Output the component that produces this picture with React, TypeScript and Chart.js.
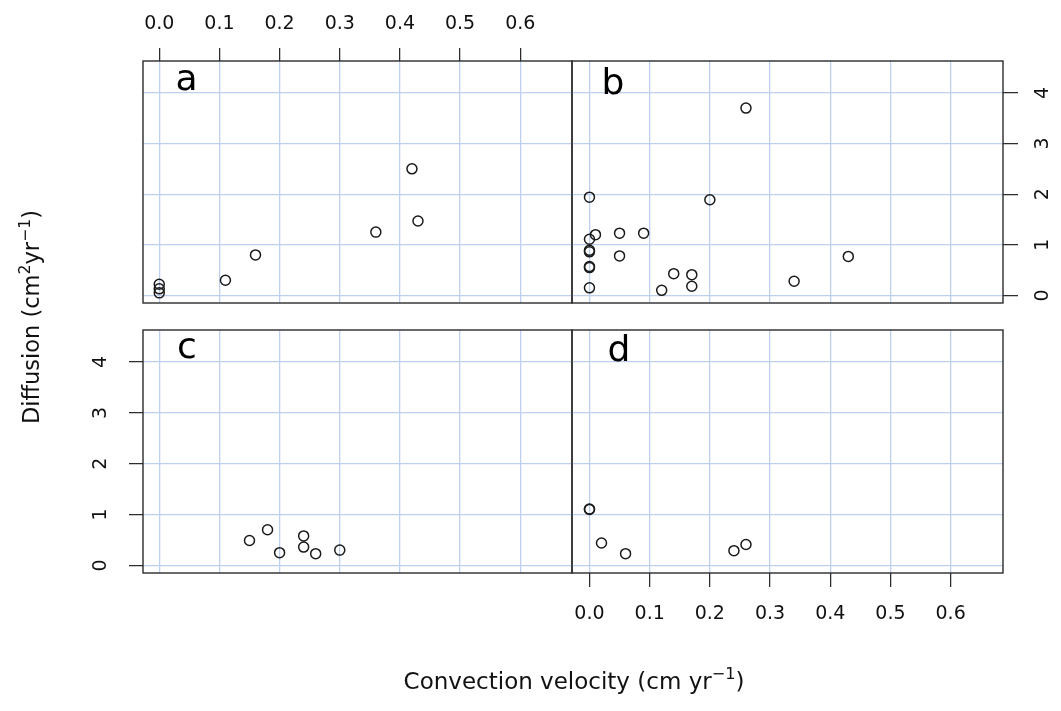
import React, { useEffect, useRef } from "react";
import { Chart, registerables } from "chart.js";

Chart.register(...registerables);

// ---- data ----
const X_TICKS = [0, 0.1, 0.2, 0.3, 0.4, 0.5, 0.6];
const Y_TICKS = [0, 1, 2, 3, 4];

const A_X = [0, 0, 0, 0.11, 0.16, 0.36, 0.42, 0.43];
const A_Y = [0.22, 0.13, 0.05, 0.3, 0.8, 1.25, 2.5, 1.47];

const B_X = [0.26, 0, 0.2, 0.01, 0, 0.05, 0.09, 0, 0, 0.05, 0, 0, 0, 0.14, 0.17, 0.17, 0.12, 0.34, 0.43];
const B_Y = [3.7, 1.94, 1.89, 1.2, 1.11, 1.23, 1.23, 0.89, 0.86, 0.78, 0.57, 0.55, 0.15, 0.43, 0.41, 0.18, 0.1, 0.28, 0.77];

const C_X = [0.15, 0.18, 0.2, 0.24, 0.24, 0.26, 0.3];
const C_Y = [0.49, 0.7, 0.25, 0.58, 0.36, 0.23, 0.3];

const D_X = [0, 0, 0.02, 0.06, 0.24, 0.26];
const D_Y = [1.11, 1.1, 0.44, 0.23, 0.29, 0.41];

const PANEL_LETTERS = ["a", "b", "c", "d"];
const X_TITLE = [
  { t: "Convection velocity (cm yr" },
  { t: "\u22121", sup: true },
  { t: ")" },
];
const Y_TITLE = [
  { t: "Diffusion (cm" },
  { t: "2", sup: true },
  { t: "yr" },
  { t: "\u22121", sup: true },
  { t: ")" },
];

// ---- styling / layout ----
const W = 1061;
const H = 711;
const FONT = '"DejaVu Sans", "Liberation Sans", sans-serif';
const GRID = "rgb(190, 208, 242)";
const Y_MIN = -0.15;
const Y_MAX = 4.63;

type Part = { t: string; sup?: boolean };

function drawRich(ctx: CanvasRenderingContext2D, parts: Part[], size: number) {
  let total = 0;
  const m = parts.map((p) => {
    const fs = p.sup ? size * 0.7 : size;
    ctx.font = `${fs}px ${FONT}`;
    const w = ctx.measureText(p.t).width;
    total += w;
    return { ...p, fs, w };
  });
  let x = -total / 2;
  ctx.textAlign = "left";
  ctx.textBaseline = "alphabetic";
  for (const p of m) {
    ctx.font = `${p.fs}px ${FONT}`;
    ctx.fillText(p.t, x, p.sup ? -size * 0.42 : 0);
    x += p.w;
  }
}

type Spec = {
  xs: number[];
  ys: number[];
  area: { left: number; top: number; right: number; bottom: number };
  xMin: number;
  xMax: number;
  xAxis: "top" | "bottom" | "none";
  yAxis: "left" | "right" | "none";
  letter: string;
  letterX: number;
  letterY: number;
  titles?: boolean;
};

const SPECS: Spec[] = [
  {
    xs: A_X, ys: A_Y,
    area: { left: 143, top: 61, right: 572, bottom: 303 },
    xMin: -0.027, xMax: 0.686, xAxis: "top", yAxis: "none",
    letter: PANEL_LETTERS[0], letterX: 186.5, letterY: 90,
  },
  {
    xs: B_X, ys: B_Y,
    area: { left: 572, top: 61, right: 1003, bottom: 303 },
    xMin: -0.029, xMax: 0.687, xAxis: "none", yAxis: "right",
    letter: PANEL_LETTERS[1], letterX: 613, letterY: 94,
  },
  {
    xs: C_X, ys: C_Y,
    area: { left: 143, top: 330, right: 572, bottom: 573 },
    xMin: -0.027, xMax: 0.686, xAxis: "none", yAxis: "left",
    letter: PANEL_LETTERS[2], letterX: 187, letterY: 358,
  },
  {
    xs: D_X, ys: D_Y,
    area: { left: 572, top: 330, right: 1003, bottom: 573 },
    xMin: -0.029, xMax: 0.687, xAxis: "bottom", yAxis: "none",
    letter: PANEL_LETTERS[3], letterX: 619, letterY: 361,
    titles: true,
  },
];

function makeConfig(s: Spec): any {
  const a = s.area;
  let padTop = a.top, padBottom = H - a.bottom, padLeft = a.left, padRight = W - a.right;
  let xSize = 0, ySize = 0;
  if (s.xAxis === "top") { xSize = a.top; padTop = 0; }
  if (s.xAxis === "bottom") { xSize = H - a.bottom; padBottom = 0; }
  if (s.yAxis === "left") { ySize = a.left; padLeft = 0; }
  if (s.yAxis === "right") { ySize = W - a.right; padRight = 0; }

  const fix = (size: number) => (scale: any) => {
    if (scale.isHorizontal()) scale.height = size;
    else scale.width = size;
    scale.paddingLeft = 0;
    scale.paddingRight = 0;
    scale.paddingTop = 0;
    scale.paddingBottom = 0;
  };

  const xShow = s.xAxis !== "none";
  const yShow = s.yAxis !== "none";

  const decor = {
    id: "decor",
    afterDraw(chart: any) {
      const { ctx, chartArea: ca } = chart;
      ctx.save();
      ctx.strokeStyle = "#2b2b2b";
      ctx.lineWidth = 1.4;
      ctx.strokeRect(ca.left, ca.top, ca.right - ca.left, ca.bottom - ca.top);
      ctx.fillStyle = "#000";
      ctx.font = `36px ${FONT}`;
      ctx.textAlign = "center";
      ctx.textBaseline = "alphabetic";
      ctx.fillText(s.letter, s.letterX, s.letterY);
      if (s.titles) {
        ctx.fillStyle = "#111";
        ctx.save();
        ctx.translate(574, 689);
        drawRich(ctx, X_TITLE, 23);
        ctx.restore();
        ctx.save();
        ctx.translate(39, 317);
        ctx.rotate(-Math.PI / 2);
        drawRich(ctx, Y_TITLE, 22.5);
        ctx.restore();
      }
      ctx.restore();
    },
  };

  return {
    type: "scatter",
    data: {
      datasets: [
        {
          data: s.xs.map((x, i) => ({ x, y: s.ys[i] })),
          pointRadius: 5,
          pointHoverRadius: 5,
          pointBorderWidth: 1.5,
          pointBackgroundColor: "rgba(0,0,0,0)",
          pointBorderColor: "#1a1a1a",
          showLine: false,
        },
      ],
    },
    options: {
      animation: false,
      responsive: false,
      devicePixelRatio: 1,
      events: [],
      layout: { padding: { left: padLeft, right: padRight, top: padTop, bottom: padBottom } },
      plugins: { legend: { display: false }, tooltip: { enabled: false } },
      scales: {
        x: {
          type: "linear",
          position: s.xAxis === "top" ? "top" : "bottom",
          min: s.xMin,
          max: s.xMax,
          afterBuildTicks: (scale: any) => {
            scale.ticks = X_TICKS.map((v) => ({ value: v }));
          },
          afterFit: fix(xSize),
          border: { display: false },
          grid: {
            color: GRID,
            lineWidth: 1.3,
            drawTicks: xShow,
            tickLength: s.xAxis === "top" ? 13 : 14,
            tickColor: "#222",
            tickWidth: 1.2,
          },
          ticks: {
            display: xShow,
            color: "#111",
            font: { family: FONT, size: 19 },
            padding: s.xAxis === "top" ? 13 : 16,
            maxRotation: 0,
            minRotation: 0,
            callback: (v: any) => Number(v).toFixed(1),
          },
        },
        y: {
          type: "linear",
          position: s.yAxis === "right" ? "right" : "left",
          min: Y_MIN,
          max: Y_MAX,
          afterBuildTicks: (scale: any) => {
            scale.ticks = Y_TICKS.map((v) => ({ value: v }));
          },
          afterFit: fix(ySize),
          border: { display: false },
          grid: {
            color: GRID,
            lineWidth: 1.3,
            drawTicks: yShow,
            tickLength: s.yAxis === "right" ? 15 : 14,
            tickColor: "#222",
            tickWidth: 1.2,
          },
          ticks: {
            display: yShow,
            color: "#111",
            font: { family: FONT, size: 19 },
            padding: s.yAxis === "right" ? 19 : 21.5,
            minRotation: 90,
            maxRotation: 90,
            crossAlign: "center",
            callback: (v: any) => String(v),
          },
        },
      },
    },
    plugins: [decor],
  };
}

export default function App() {
  const refs = [useRef<HTMLCanvasElement>(null), useRef<HTMLCanvasElement>(null), useRef<HTMLCanvasElement>(null), useRef<HTMLCanvasElement>(null)];

  useEffect(() => {
    const charts = SPECS.map((s, i) => new Chart(refs[i].current as HTMLCanvasElement, makeConfig(s)));
    return () => charts.forEach((c) => c.destroy());
  }, []);

  return (
    <div style={{ position: "fixed", left: 0, top: 0, width: W, height: H, background: "#fff" }}>
      {SPECS.map((s, i) => (
        <canvas
          key={s.letter}
          ref={refs[i]}
          width={W}
          height={H}
          style={{ position: "absolute", left: 0, top: 0, width: W, height: H }}
        />
      ))}
    </div>
  );
}
